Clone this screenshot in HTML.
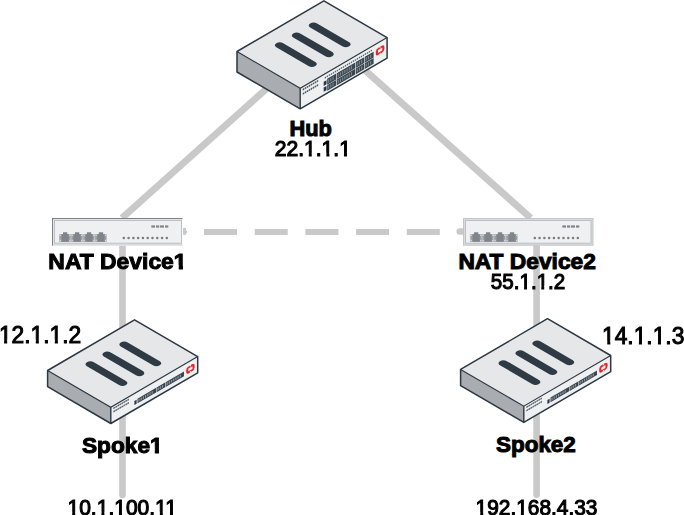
<!DOCTYPE html>
<html><head><meta charset="utf-8"><style>
html,body{margin:0;padding:0;background:#fff;width:684px;height:515px;overflow:hidden;}
svg{display:block;font-family:"Liberation Sans",sans-serif;}
</style></head><body>
<svg width="684" height="515" viewBox="0 0 684 515">
<rect width="684" height="515" fill="#fff"/>
<defs><mask id="m1" maskUnits="userSpaceOnUse" x="-20" y="-40" width="200" height="60"><rect x="-20" y="-40" width="200" height="60" fill="#fff"/><rect x="30.16" y="-3.16" width="4.52" height="5.21" fill="#000"/><rect x="37.78" y="-3.16" width="4.35" height="5.21" fill="#000"/><rect x="48.10" y="-3.16" width="4.52" height="5.21" fill="#000"/><rect x="55.72" y="-3.16" width="4.35" height="5.21" fill="#000"/><rect x="66.02" y="-3.16" width="4.52" height="5.21" fill="#000"/><rect x="73.64" y="-3.16" width="4.35" height="5.21" fill="#000"/></mask><mask id="m2" maskUnits="userSpaceOnUse" x="-20" y="-40" width="260" height="60"><rect x="-20" y="-40" width="260" height="60" fill="#fff"/><rect x="120.71" y="-3.75" width="4.50" height="5.75" fill="#000"/><rect x="129.33" y="-3.75" width="4.22" height="5.75" fill="#000"/></mask><mask id="m4" maskUnits="userSpaceOnUse" x="-20" y="-40" width="200" height="60"><rect x="-20" y="-40" width="200" height="60" fill="#fff"/><rect x="30.16" y="-3.16" width="4.52" height="5.21" fill="#000"/><rect x="37.78" y="-3.16" width="4.35" height="5.21" fill="#000"/><rect x="48.10" y="-3.16" width="4.52" height="5.21" fill="#000"/><rect x="55.72" y="-3.16" width="4.35" height="5.21" fill="#000"/></mask><mask id="m5" maskUnits="userSpaceOnUse" x="-20" y="-40" width="200" height="60"><rect x="-20" y="-40" width="200" height="60" fill="#fff"/><rect x="0.49" y="-3.26" width="4.87" height="5.26" fill="#000"/><rect x="8.54" y="-3.26" width="4.69" height="5.26" fill="#000"/><rect x="33.15" y="-3.26" width="4.87" height="5.26" fill="#000"/><rect x="41.19" y="-3.26" width="4.69" height="5.26" fill="#000"/><rect x="52.76" y="-3.26" width="4.87" height="5.26" fill="#000"/><rect x="60.80" y="-3.26" width="4.69" height="5.26" fill="#000"/></mask><mask id="m6" maskUnits="userSpaceOnUse" x="-20" y="-40" width="200" height="60"><rect x="-20" y="-40" width="200" height="60" fill="#fff"/><rect x="0.49" y="-3.26" width="4.87" height="5.26" fill="#000"/><rect x="8.54" y="-3.26" width="4.69" height="5.26" fill="#000"/><rect x="33.15" y="-3.26" width="4.87" height="5.26" fill="#000"/><rect x="41.19" y="-3.26" width="4.69" height="5.26" fill="#000"/><rect x="52.76" y="-3.26" width="4.87" height="5.26" fill="#000"/><rect x="60.80" y="-3.26" width="4.69" height="5.26" fill="#000"/></mask><mask id="m7" maskUnits="userSpaceOnUse" x="-20" y="-40" width="160" height="60"><rect x="-20" y="-40" width="160" height="60" fill="#fff"/><rect x="66.10" y="-3.75" width="4.50" height="5.75" fill="#000"/><rect x="74.72" y="-3.75" width="4.22" height="5.75" fill="#000"/></mask><mask id="m9" maskUnits="userSpaceOnUse" x="-20" y="-40" width="260" height="60"><rect x="-20" y="-40" width="260" height="60" fill="#fff"/><rect x="0.29" y="-3.16" width="4.52" height="5.21" fill="#000"/><rect x="7.91" y="-3.16" width="4.35" height="5.21" fill="#000"/><rect x="30.16" y="-3.16" width="4.52" height="5.21" fill="#000"/><rect x="37.78" y="-3.16" width="4.35" height="5.21" fill="#000"/><rect x="48.10" y="-3.16" width="4.52" height="5.21" fill="#000"/><rect x="55.72" y="-3.16" width="4.35" height="5.21" fill="#000"/><rect x="89.94" y="-3.16" width="4.52" height="5.21" fill="#000"/><rect x="97.56" y="-3.16" width="4.35" height="5.21" fill="#000"/><rect x="100.30" y="-3.16" width="4.52" height="5.21" fill="#000"/><rect x="107.92" y="-3.16" width="4.35" height="5.21" fill="#000"/></mask><mask id="m10" maskUnits="userSpaceOnUse" x="-20" y="-40" width="280" height="60"><rect x="-20" y="-40" width="280" height="60" fill="#fff"/><rect x="0.29" y="-3.16" width="4.52" height="5.21" fill="#000"/><rect x="7.91" y="-3.16" width="4.35" height="5.21" fill="#000"/><rect x="42.13" y="-3.16" width="4.52" height="5.21" fill="#000"/><rect x="49.75" y="-3.16" width="4.35" height="5.21" fill="#000"/></mask></defs>
<g stroke="#c9c9c9" fill="none">
<line x1="122" y1="218" x2="326" y2="35.5" stroke-width="7"/>
<line x1="530.7" y1="218" x2="326" y2="35.5" stroke-width="7"/>
<line x1="122.5" y1="240" x2="122.5" y2="495" stroke-width="6.6" stroke-linecap="round"/>
<line x1="536.6" y1="240" x2="536.6" y2="494.8" stroke-width="6.6" stroke-linecap="round"/>
<line x1="204" y1="231.95" x2="440" y2="231.95" stroke-width="6" stroke-dasharray="33 17.7"/>
</g>
<polygon points="237.00,51.50 323.90,0.80 387.10,37.60 300.20,88.30" fill="#e6e7e9"/>
<polygon points="237.00,51.50 300.20,88.30 300.20,108.80 237.00,72.00" fill="#a9acb0"/>
<polygon points="300.20,88.30 387.10,37.60 387.10,58.10 300.20,108.80" fill="#eff0f1"/>
<g transform="matrix(0.8642,0.5032,0.8637,-0.5039,237.00,51.50)" fill="#2e3a44">
<rect x="14.6" y="26.90" width="45.2" height="8.0" rx="4.00" ry="4.00"/>
<rect x="14.6" y="46.50" width="45.2" height="8.0" rx="4.00" ry="4.00"/>
<rect x="14.6" y="66.10" width="45.2" height="8.0" rx="4.00" ry="4.00"/>
</g>
<g transform="matrix(1,-0.5834,0,1,300.20,88.30)">
<rect x="2.5" y="2" width="1.5" height="1.8" fill="#4e5862"/>
<rect x="2.5" y="6.2" width="1.5" height="1.8" fill="#4e5862"/>
<rect x="4.5" y="2" width="1.5" height="1.8" fill="#4e5862"/>
<rect x="4.5" y="6.2" width="1.5" height="1.8" fill="#4e5862"/>
<rect x="6.5" y="2" width="1.5" height="1.8" fill="#4e5862"/>
<rect x="6.5" y="6.2" width="1.5" height="1.8" fill="#4e5862"/>
<rect x="8.5" y="2" width="1.5" height="1.8" fill="#4e5862"/>
<rect x="8.5" y="6.2" width="1.5" height="1.8" fill="#4e5862"/>
<rect x="10.5" y="2" width="1.5" height="1.8" fill="#4e5862"/>
<rect x="10.5" y="6.2" width="1.5" height="1.8" fill="#4e5862"/>
<rect x="12.5" y="2" width="1.5" height="1.8" fill="#4e5862"/>
<rect x="12.5" y="6.2" width="1.5" height="1.8" fill="#4e5862"/>
<rect x="14.5" y="2" width="1.5" height="1.8" fill="#4e5862"/>
<rect x="14.5" y="6.2" width="1.5" height="1.8" fill="#4e5862"/>
<rect x="16.5" y="2" width="1.5" height="1.8" fill="#4e5862"/>
<rect x="16.5" y="6.2" width="1.5" height="1.8" fill="#4e5862"/>
<rect x="24.5" y="3.2" width="1.3" height="1.5" fill="#5a646e"/>
<rect x="26.5" y="3.2" width="1.3" height="1.5" fill="#5a646e"/>
<rect x="28.5" y="3.2" width="1.3" height="1.5" fill="#5a646e"/>
<rect x="30.5" y="3.2" width="1.3" height="1.5" fill="#5a646e"/>
<rect x="32.5" y="3.2" width="1.3" height="1.5" fill="#5a646e"/>
<rect x="34.5" y="3.2" width="1.3" height="1.5" fill="#5a646e"/>
<rect x="36.5" y="3.2" width="1.3" height="1.5" fill="#5a646e"/>
<rect x="38.5" y="3.2" width="1.3" height="1.5" fill="#5a646e"/>
<rect x="40.5" y="3.2" width="1.3" height="1.5" fill="#5a646e"/>
<rect x="42.5" y="3.2" width="1.3" height="1.5" fill="#5a646e"/>
<rect x="44.5" y="3.2" width="1.3" height="1.5" fill="#5a646e"/>
<rect x="46.5" y="3.2" width="1.3" height="1.5" fill="#5a646e"/>
<rect x="48.5" y="3.2" width="1.3" height="1.5" fill="#5a646e"/>
<rect x="50.5" y="3.2" width="1.3" height="1.5" fill="#5a646e"/>
<rect x="52.5" y="3.2" width="1.3" height="1.5" fill="#5a646e"/>
<rect x="54.5" y="3.2" width="1.3" height="1.5" fill="#5a646e"/>
<rect x="56.5" y="3.2" width="1.3" height="1.5" fill="#5a646e"/>
<rect x="58.5" y="3.2" width="1.3" height="1.5" fill="#5a646e"/>
<rect x="60.5" y="3.2" width="1.3" height="1.5" fill="#5a646e"/>
<rect x="62.5" y="3.2" width="1.3" height="1.5" fill="#5a646e"/>
<rect x="64.5" y="3.2" width="1.3" height="1.5" fill="#5a646e"/>
<rect x="66.5" y="3.2" width="1.3" height="1.5" fill="#5a646e"/>
<rect x="68.5" y="3.2" width="1.3" height="1.5" fill="#5a646e"/>
<rect x="70.5" y="3.2" width="1.3" height="1.5" fill="#5a646e"/>
<rect x="23.5" y="7.2" width="2.8" height="4.2" fill="#2b3742"/>
<rect x="23.5" y="13" width="2.8" height="4.2" fill="#2b3742"/>
<rect x="27" y="6.2" width="9" height="5.8999999999999995" fill="#3a4650"/>
<rect x="27.90" y="7.50" width="1.1" height="3.30" fill="#7f8890"/>
<rect x="30.10" y="7.50" width="1.1" height="3.30" fill="#7f8890"/>
<rect x="32.30" y="7.50" width="1.1" height="3.30" fill="#7f8890"/>
<rect x="27" y="12.6" width="9" height="5.700000000000001" fill="#3a4650"/>
<rect x="27.90" y="13.90" width="1.1" height="3.10" fill="#7f8890"/>
<rect x="30.10" y="13.90" width="1.1" height="3.10" fill="#7f8890"/>
<rect x="32.30" y="13.90" width="1.1" height="3.10" fill="#7f8890"/>
<rect x="36.6" y="6.2" width="18.4" height="5.8999999999999995" fill="#3a4650"/>
<rect x="37.50" y="7.50" width="1.1" height="3.30" fill="#7f8890"/>
<rect x="39.70" y="7.50" width="1.1" height="3.30" fill="#7f8890"/>
<rect x="41.90" y="7.50" width="1.1" height="3.30" fill="#7f8890"/>
<rect x="44.10" y="7.50" width="1.1" height="3.30" fill="#7f8890"/>
<rect x="46.30" y="7.50" width="1.1" height="3.30" fill="#7f8890"/>
<rect x="48.50" y="7.50" width="1.1" height="3.30" fill="#7f8890"/>
<rect x="50.70" y="7.50" width="1.1" height="3.30" fill="#7f8890"/>
<rect x="36.6" y="12.6" width="18.4" height="5.700000000000001" fill="#3a4650"/>
<rect x="37.50" y="13.90" width="1.1" height="3.10" fill="#7f8890"/>
<rect x="39.70" y="13.90" width="1.1" height="3.10" fill="#7f8890"/>
<rect x="41.90" y="13.90" width="1.1" height="3.10" fill="#7f8890"/>
<rect x="44.10" y="13.90" width="1.1" height="3.10" fill="#7f8890"/>
<rect x="46.30" y="13.90" width="1.1" height="3.10" fill="#7f8890"/>
<rect x="48.50" y="13.90" width="1.1" height="3.10" fill="#7f8890"/>
<rect x="50.70" y="13.90" width="1.1" height="3.10" fill="#7f8890"/>
<rect x="55.6" y="6.2" width="8.399999999999999" height="5.8999999999999995" fill="#3a4650"/>
<rect x="56.50" y="7.50" width="1.1" height="3.30" fill="#7f8890"/>
<rect x="58.70" y="7.50" width="1.1" height="3.30" fill="#7f8890"/>
<rect x="60.90" y="7.50" width="1.1" height="3.30" fill="#7f8890"/>
<rect x="55.6" y="12.6" width="8.399999999999999" height="5.700000000000001" fill="#3a4650"/>
<rect x="56.50" y="13.90" width="1.1" height="3.10" fill="#7f8890"/>
<rect x="58.70" y="13.90" width="1.1" height="3.10" fill="#7f8890"/>
<rect x="60.90" y="13.90" width="1.1" height="3.10" fill="#7f8890"/>
<rect x="64.6" y="6.2" width="8.800000000000011" height="5.8999999999999995" fill="#3a4650"/>
<rect x="65.50" y="7.50" width="1.1" height="3.30" fill="#7f8890"/>
<rect x="67.70" y="7.50" width="1.1" height="3.30" fill="#7f8890"/>
<rect x="69.90" y="7.50" width="1.1" height="3.30" fill="#7f8890"/>
<rect x="64.6" y="12.6" width="8.800000000000011" height="5.700000000000001" fill="#3a4650"/>
<rect x="65.50" y="13.90" width="1.1" height="3.10" fill="#7f8890"/>
<rect x="67.70" y="13.90" width="1.1" height="3.10" fill="#7f8890"/>
<rect x="69.90" y="13.90" width="1.1" height="3.10" fill="#7f8890"/>
<rect x="76.64999999999999" y="6.05" width="6.5" height="5.1" rx="1.6" fill="none" stroke="#e5252a" stroke-width="2.1"/>
<rect x="79.39999999999999" y="4.8" width="1.0" height="1.4" fill="#eff0f1"/>
<rect x="79.39999999999999" y="11.0" width="1.0" height="1.4" fill="#eff0f1"/>
</g>
<polyline points="237.00,51.50 300.20,88.30 387.10,37.60" fill="none" stroke="#2b3742" stroke-width="1.1"/>
<line x1="300.20" y1="88.30" x2="300.20" y2="108.80" stroke="#2b3742" stroke-width="1.4"/>
<polygon points="237.00,51.50 323.90,0.80 387.10,37.60 387.10,58.10 300.20,108.80 237.00,72.00" fill="none" stroke="#2b3742" stroke-width="1.5" stroke-linejoin="round"/>
<rect x="183.0" y="228" width="3" height="6.8" fill="#c8c9cb"/>
<path d="M186.0,230.5 l1.2,0.6 v1.6 l-1.2,0.6 z" fill="#c8c9cb"/>
<rect x="52" y="218" width="130.5" height="27.7" fill="#ffffff"/>
<rect x="54" y="243.2" width="128.5" height="2.5" fill="#d9dbdd"/>
<rect x="54.5" y="220.5" width="127.0" height="22.7" fill="#eff0f1" stroke="#bcc0c4" stroke-width="1"/>
<rect x="52" y="218" width="130.5" height="1.2" fill="#7a8188"/>
<rect x="52" y="218" width="1.2" height="27.7" fill="#7a8188"/>
<rect x="59.30" y="234.2" width="11.4" height="7.6" fill="#9a9fa4"/>
<path d="M61.60,234.2 h1.4 v-2 h4.3 v2 h1.4 v7.6 h-7.1 z" fill="#7f858b"/>
<rect x="59.75" y="234.85" width="1.1" height="1.1" fill="#e2e4e6"/>
<rect x="69.15" y="234.85" width="1.1" height="1.1" fill="#e2e4e6"/>
<rect x="59.75" y="239.85" width="1.1" height="1.1" fill="#e2e4e6"/>
<rect x="69.15" y="239.85" width="1.1" height="1.1" fill="#e2e4e6"/>
<rect x="71.25" y="234.2" width="11.4" height="7.6" fill="#9a9fa4"/>
<path d="M73.55,234.2 h1.4 v-2 h4.3 v2 h1.4 v7.6 h-7.1 z" fill="#7f858b"/>
<rect x="71.70" y="234.85" width="1.1" height="1.1" fill="#e2e4e6"/>
<rect x="81.10" y="234.85" width="1.1" height="1.1" fill="#e2e4e6"/>
<rect x="71.70" y="239.85" width="1.1" height="1.1" fill="#e2e4e6"/>
<rect x="81.10" y="239.85" width="1.1" height="1.1" fill="#e2e4e6"/>
<rect x="83.20" y="234.2" width="11.4" height="7.6" fill="#9a9fa4"/>
<path d="M85.50,234.2 h1.4 v-2 h4.3 v2 h1.4 v7.6 h-7.1 z" fill="#7f858b"/>
<rect x="83.65" y="234.85" width="1.1" height="1.1" fill="#e2e4e6"/>
<rect x="93.05" y="234.85" width="1.1" height="1.1" fill="#e2e4e6"/>
<rect x="83.65" y="239.85" width="1.1" height="1.1" fill="#e2e4e6"/>
<rect x="93.05" y="239.85" width="1.1" height="1.1" fill="#e2e4e6"/>
<rect x="95.15" y="234.2" width="11.4" height="7.6" fill="#9a9fa4"/>
<path d="M97.45,234.2 h1.4 v-2 h4.3 v2 h1.4 v7.6 h-7.1 z" fill="#7f858b"/>
<rect x="95.60" y="234.85" width="1.1" height="1.1" fill="#e2e4e6"/>
<rect x="105.00" y="234.85" width="1.1" height="1.1" fill="#e2e4e6"/>
<rect x="95.60" y="239.85" width="1.1" height="1.1" fill="#e2e4e6"/>
<rect x="105.00" y="239.85" width="1.1" height="1.1" fill="#e2e4e6"/>
<rect x="151.30" y="225.4" width="3.70" height="2.2" fill="#80868b"/>
<rect x="156.00" y="225.4" width="3.20" height="2.2" fill="#80868b"/>
<rect x="160.00" y="225.4" width="4.00" height="2.2" fill="#80868b"/>
<rect x="165.00" y="225.4" width="3.30" height="2.2" fill="#80868b"/>
<circle cx="123.80" cy="237.9" r="1.25" fill="#767c82"/>
<circle cx="128.58" cy="237.9" r="1.25" fill="#767c82"/>
<circle cx="133.36" cy="237.9" r="1.25" fill="#767c82"/>
<circle cx="138.14" cy="237.9" r="1.25" fill="#767c82"/>
<circle cx="142.92" cy="237.9" r="1.25" fill="#767c82"/>
<circle cx="147.70" cy="237.9" r="1.25" fill="#767c82"/>
<circle cx="152.48" cy="237.9" r="1.25" fill="#767c82"/>
<circle cx="157.26" cy="237.9" r="1.25" fill="#767c82"/>
<circle cx="162.04" cy="237.9" r="1.25" fill="#767c82"/>
<circle cx="166.82" cy="237.9" r="1.25" fill="#767c82"/>
<path d="M463,228.2 h-3.2 a3.3,3.3 0 0 0 0,6.6 h3.2 z" fill="#c8c9cb"/>
<rect x="463.5" y="218.5" width="129.5" height="26.7" fill="#d9dbdd" stroke="#c3c7cb" stroke-width="1"/>
<rect x="465.5" y="220.5" width="125.5" height="22.7" fill="#eff0f1" stroke="#bcc0c4" stroke-width="1"/>
<rect x="470.30" y="234.2" width="11.4" height="7.6" fill="#9a9fa4"/>
<path d="M472.60,234.2 h1.4 v-2 h4.3 v2 h1.4 v7.6 h-7.1 z" fill="#7f858b"/>
<rect x="470.75" y="234.85" width="1.1" height="1.1" fill="#e2e4e6"/>
<rect x="480.15" y="234.85" width="1.1" height="1.1" fill="#e2e4e6"/>
<rect x="470.75" y="239.85" width="1.1" height="1.1" fill="#e2e4e6"/>
<rect x="480.15" y="239.85" width="1.1" height="1.1" fill="#e2e4e6"/>
<rect x="482.25" y="234.2" width="11.4" height="7.6" fill="#9a9fa4"/>
<path d="M484.55,234.2 h1.4 v-2 h4.3 v2 h1.4 v7.6 h-7.1 z" fill="#7f858b"/>
<rect x="482.70" y="234.85" width="1.1" height="1.1" fill="#e2e4e6"/>
<rect x="492.10" y="234.85" width="1.1" height="1.1" fill="#e2e4e6"/>
<rect x="482.70" y="239.85" width="1.1" height="1.1" fill="#e2e4e6"/>
<rect x="492.10" y="239.85" width="1.1" height="1.1" fill="#e2e4e6"/>
<rect x="494.20" y="234.2" width="11.4" height="7.6" fill="#9a9fa4"/>
<path d="M496.50,234.2 h1.4 v-2 h4.3 v2 h1.4 v7.6 h-7.1 z" fill="#7f858b"/>
<rect x="494.65" y="234.85" width="1.1" height="1.1" fill="#e2e4e6"/>
<rect x="504.05" y="234.85" width="1.1" height="1.1" fill="#e2e4e6"/>
<rect x="494.65" y="239.85" width="1.1" height="1.1" fill="#e2e4e6"/>
<rect x="504.05" y="239.85" width="1.1" height="1.1" fill="#e2e4e6"/>
<rect x="506.15" y="234.2" width="11.4" height="7.6" fill="#9a9fa4"/>
<path d="M508.45,234.2 h1.4 v-2 h4.3 v2 h1.4 v7.6 h-7.1 z" fill="#7f858b"/>
<rect x="506.60" y="234.85" width="1.1" height="1.1" fill="#e2e4e6"/>
<rect x="516.00" y="234.85" width="1.1" height="1.1" fill="#e2e4e6"/>
<rect x="506.60" y="239.85" width="1.1" height="1.1" fill="#e2e4e6"/>
<rect x="516.00" y="239.85" width="1.1" height="1.1" fill="#e2e4e6"/>
<rect x="562.30" y="225.4" width="3.70" height="2.2" fill="#80868b"/>
<rect x="567.00" y="225.4" width="3.20" height="2.2" fill="#80868b"/>
<rect x="571.00" y="225.4" width="4.00" height="2.2" fill="#80868b"/>
<rect x="576.00" y="225.4" width="3.30" height="2.2" fill="#80868b"/>
<circle cx="534.80" cy="237.9" r="1.25" fill="#767c82"/>
<circle cx="539.58" cy="237.9" r="1.25" fill="#767c82"/>
<circle cx="544.36" cy="237.9" r="1.25" fill="#767c82"/>
<circle cx="549.14" cy="237.9" r="1.25" fill="#767c82"/>
<circle cx="553.92" cy="237.9" r="1.25" fill="#767c82"/>
<circle cx="558.70" cy="237.9" r="1.25" fill="#767c82"/>
<circle cx="563.48" cy="237.9" r="1.25" fill="#767c82"/>
<circle cx="568.26" cy="237.9" r="1.25" fill="#767c82"/>
<circle cx="573.04" cy="237.9" r="1.25" fill="#767c82"/>
<circle cx="577.82" cy="237.9" r="1.25" fill="#767c82"/>
<polygon points="47.60,370.50 134.50,319.80 197.70,356.60 110.80,407.30" fill="#e6e7e9"/>
<polygon points="47.60,370.50 110.80,407.30 110.80,423.50 47.60,386.70" fill="#a9acb0"/>
<polygon points="110.80,407.30 197.70,356.60 197.70,372.80 110.80,423.50" fill="#eff0f1"/>
<g transform="matrix(0.8642,0.5032,0.8637,-0.5039,47.60,370.50)" fill="#2e3a44">
<rect x="14.6" y="26.90" width="45.2" height="8.0" rx="4.00" ry="4.00"/>
<rect x="14.6" y="46.50" width="45.2" height="8.0" rx="4.00" ry="4.00"/>
<rect x="14.6" y="66.10" width="45.2" height="8.0" rx="4.00" ry="4.00"/>
</g>
<g transform="matrix(1,-0.5834,0,1,110.80,407.30)">
<rect x="2.6" y="1.8" width="1.5" height="1.6" fill="#4e5862"/>
<rect x="2.6" y="5.2" width="1.5" height="1.6" fill="#4e5862"/>
<rect x="4.6" y="1.8" width="1.5" height="1.6" fill="#4e5862"/>
<rect x="4.6" y="5.2" width="1.5" height="1.6" fill="#4e5862"/>
<rect x="6.6" y="1.8" width="1.5" height="1.6" fill="#4e5862"/>
<rect x="6.6" y="5.2" width="1.5" height="1.6" fill="#4e5862"/>
<rect x="8.6" y="1.8" width="1.5" height="1.6" fill="#4e5862"/>
<rect x="8.6" y="5.2" width="1.5" height="1.6" fill="#4e5862"/>
<rect x="10.6" y="1.8" width="1.5" height="1.6" fill="#4e5862"/>
<rect x="10.6" y="5.2" width="1.5" height="1.6" fill="#4e5862"/>
<rect x="12.6" y="1.8" width="1.5" height="1.6" fill="#4e5862"/>
<rect x="12.6" y="5.2" width="1.5" height="1.6" fill="#4e5862"/>
<rect x="14.6" y="1.8" width="1.5" height="1.6" fill="#4e5862"/>
<rect x="14.6" y="5.2" width="1.5" height="1.6" fill="#4e5862"/>
<rect x="16.6" y="1.8" width="1.5" height="1.6" fill="#4e5862"/>
<rect x="16.6" y="5.2" width="1.5" height="1.6" fill="#4e5862"/>
<rect x="23.6" y="7.5" width="2.2" height="4" fill="#2b3742"/>
<rect x="26.7" y="7" width="18.599999999999998" height="4.6" fill="#3a4650"/>
<rect x="27.60" y="8" width="1.2" height="2.6" fill="#8e979f"/>
<rect x="29.80" y="8" width="1.2" height="2.6" fill="#8e979f"/>
<rect x="32.00" y="8" width="1.2" height="2.6" fill="#8e979f"/>
<rect x="34.20" y="8" width="1.2" height="2.6" fill="#8e979f"/>
<rect x="36.40" y="8" width="1.2" height="2.6" fill="#8e979f"/>
<rect x="38.60" y="8" width="1.2" height="2.6" fill="#8e979f"/>
<rect x="40.80" y="8" width="1.2" height="2.6" fill="#8e979f"/>
<rect x="45.8" y="7" width="8.5" height="4.6" fill="#3a4650"/>
<rect x="46.70" y="8" width="1.2" height="2.6" fill="#8e979f"/>
<rect x="48.90" y="8" width="1.2" height="2.6" fill="#8e979f"/>
<rect x="51.10" y="8" width="1.2" height="2.6" fill="#8e979f"/>
<rect x="54.8" y="7" width="18.400000000000006" height="4.6" fill="#3a4650"/>
<rect x="55.70" y="8" width="1.2" height="2.6" fill="#8e979f"/>
<rect x="57.90" y="8" width="1.2" height="2.6" fill="#8e979f"/>
<rect x="60.10" y="8" width="1.2" height="2.6" fill="#8e979f"/>
<rect x="62.30" y="8" width="1.2" height="2.6" fill="#8e979f"/>
<rect x="64.50" y="8" width="1.2" height="2.6" fill="#8e979f"/>
<rect x="66.70" y="8" width="1.2" height="2.6" fill="#8e979f"/>
<rect x="68.90" y="8" width="1.2" height="2.6" fill="#8e979f"/>
<rect x="76.45" y="5.45" width="6.300000000000001" height="4.9" rx="1.6" fill="none" stroke="#e5252a" stroke-width="2.1"/>
<rect x="79.10000000000001" y="4.2" width="1.0" height="1.4" fill="#eff0f1"/>
<rect x="79.10000000000001" y="10.200000000000001" width="1.0" height="1.4" fill="#eff0f1"/>
</g>
<polyline points="47.60,370.50 110.80,407.30 197.70,356.60" fill="none" stroke="#2b3742" stroke-width="1.1"/>
<line x1="110.80" y1="407.30" x2="110.80" y2="423.50" stroke="#2b3742" stroke-width="1.4"/>
<polygon points="47.60,370.50 134.50,319.80 197.70,356.60 197.70,372.80 110.80,423.50 47.60,386.70" fill="none" stroke="#2b3742" stroke-width="1.5" stroke-linejoin="round"/>
<polygon points="460.60,369.40 547.50,318.70 610.70,355.50 523.80,406.20" fill="#e6e7e9"/>
<polygon points="460.60,369.40 523.80,406.20 523.80,422.40 460.60,385.60" fill="#a9acb0"/>
<polygon points="523.80,406.20 610.70,355.50 610.70,371.70 523.80,422.40" fill="#eff0f1"/>
<g transform="matrix(0.8642,0.5032,0.8637,-0.5039,460.60,369.40)" fill="#2e3a44">
<rect x="14.6" y="26.90" width="45.2" height="8.0" rx="4.00" ry="4.00"/>
<rect x="14.6" y="46.50" width="45.2" height="8.0" rx="4.00" ry="4.00"/>
<rect x="14.6" y="66.10" width="45.2" height="8.0" rx="4.00" ry="4.00"/>
</g>
<g transform="matrix(1,-0.5834,0,1,523.80,406.20)">
<rect x="2.6" y="1.8" width="1.5" height="1.6" fill="#4e5862"/>
<rect x="2.6" y="5.2" width="1.5" height="1.6" fill="#4e5862"/>
<rect x="4.6" y="1.8" width="1.5" height="1.6" fill="#4e5862"/>
<rect x="4.6" y="5.2" width="1.5" height="1.6" fill="#4e5862"/>
<rect x="6.6" y="1.8" width="1.5" height="1.6" fill="#4e5862"/>
<rect x="6.6" y="5.2" width="1.5" height="1.6" fill="#4e5862"/>
<rect x="8.6" y="1.8" width="1.5" height="1.6" fill="#4e5862"/>
<rect x="8.6" y="5.2" width="1.5" height="1.6" fill="#4e5862"/>
<rect x="10.6" y="1.8" width="1.5" height="1.6" fill="#4e5862"/>
<rect x="10.6" y="5.2" width="1.5" height="1.6" fill="#4e5862"/>
<rect x="12.6" y="1.8" width="1.5" height="1.6" fill="#4e5862"/>
<rect x="12.6" y="5.2" width="1.5" height="1.6" fill="#4e5862"/>
<rect x="14.6" y="1.8" width="1.5" height="1.6" fill="#4e5862"/>
<rect x="14.6" y="5.2" width="1.5" height="1.6" fill="#4e5862"/>
<rect x="16.6" y="1.8" width="1.5" height="1.6" fill="#4e5862"/>
<rect x="16.6" y="5.2" width="1.5" height="1.6" fill="#4e5862"/>
<rect x="23.6" y="7.5" width="2.2" height="4" fill="#2b3742"/>
<rect x="26.7" y="7" width="18.599999999999998" height="4.6" fill="#3a4650"/>
<rect x="27.60" y="8" width="1.2" height="2.6" fill="#8e979f"/>
<rect x="29.80" y="8" width="1.2" height="2.6" fill="#8e979f"/>
<rect x="32.00" y="8" width="1.2" height="2.6" fill="#8e979f"/>
<rect x="34.20" y="8" width="1.2" height="2.6" fill="#8e979f"/>
<rect x="36.40" y="8" width="1.2" height="2.6" fill="#8e979f"/>
<rect x="38.60" y="8" width="1.2" height="2.6" fill="#8e979f"/>
<rect x="40.80" y="8" width="1.2" height="2.6" fill="#8e979f"/>
<rect x="45.8" y="7" width="8.5" height="4.6" fill="#3a4650"/>
<rect x="46.70" y="8" width="1.2" height="2.6" fill="#8e979f"/>
<rect x="48.90" y="8" width="1.2" height="2.6" fill="#8e979f"/>
<rect x="51.10" y="8" width="1.2" height="2.6" fill="#8e979f"/>
<rect x="54.8" y="7" width="18.400000000000006" height="4.6" fill="#3a4650"/>
<rect x="55.70" y="8" width="1.2" height="2.6" fill="#8e979f"/>
<rect x="57.90" y="8" width="1.2" height="2.6" fill="#8e979f"/>
<rect x="60.10" y="8" width="1.2" height="2.6" fill="#8e979f"/>
<rect x="62.30" y="8" width="1.2" height="2.6" fill="#8e979f"/>
<rect x="64.50" y="8" width="1.2" height="2.6" fill="#8e979f"/>
<rect x="66.70" y="8" width="1.2" height="2.6" fill="#8e979f"/>
<rect x="68.90" y="8" width="1.2" height="2.6" fill="#8e979f"/>
<rect x="76.45" y="5.45" width="6.300000000000001" height="4.9" rx="1.6" fill="none" stroke="#e5252a" stroke-width="2.1"/>
<rect x="79.10000000000001" y="4.2" width="1.0" height="1.4" fill="#eff0f1"/>
<rect x="79.10000000000001" y="10.200000000000001" width="1.0" height="1.4" fill="#eff0f1"/>
</g>
<polyline points="460.60,369.40 523.80,406.20 610.70,355.50" fill="none" stroke="#2b3742" stroke-width="1.1"/>
<line x1="523.80" y1="406.20" x2="523.80" y2="422.40" stroke="#2b3742" stroke-width="1.4"/>
<polygon points="460.60,369.40 547.50,318.70 610.70,355.50 610.70,371.70 523.80,422.40 460.60,385.60" fill="none" stroke="#2b3742" stroke-width="1.5" stroke-linejoin="round"/>
<g transform="translate(289.49,136) scale(0.9921,1)"><text font-weight="bold" font-size="22.0" stroke="#000" stroke-width="1.0" fill="#000">Hub</text></g>
<g transform="translate(274.66,156) scale(0.9824,1)"><text font-weight="normal" font-size="21.5" stroke="#000" stroke-width="1.1" fill="#000" mask="url(#m1)">22.1.1.1</text></g>
<g transform="translate(48.36,269) scale(1.0410,1)"><text font-weight="bold" font-size="22.0" stroke="#000" stroke-width="1.0" fill="#000" mask="url(#m2)">NAT Device1</text></g>
<g transform="translate(458.44,269) scale(1.0349,1)"><text font-weight="bold" font-size="22.0" stroke="#000" stroke-width="1.0" fill="#000">NAT Device2</text></g>
<g transform="translate(490.82,289) scale(0.9588,1)"><text font-weight="normal" font-size="21.5" stroke="#000" stroke-width="1.1" fill="#000" mask="url(#m4)">55.1.1.2</text></g>
<g transform="translate(-1.11,343) scale(0.9706,1)"><text font-weight="normal" font-size="23.5" stroke="#000" stroke-width="1.0" fill="#000" mask="url(#m5)">12.1.1.2</text></g>
<g transform="translate(602.04,344) scale(0.9696,1)"><text font-weight="normal" font-size="23.5" stroke="#000" stroke-width="1.0" fill="#000" mask="url(#m6)">14.1.1.3</text></g>
<g transform="translate(81.91,453) scale(1.0317,1)"><text font-weight="bold" font-size="22.0" stroke="#000" stroke-width="1.0" fill="#000" mask="url(#m7)">Spoke1</text></g>
<g transform="translate(495.97,452) scale(1.0215,1)"><text font-weight="bold" font-size="22.0" stroke="#000" stroke-width="1.0" fill="#000">Spoke2</text></g>
<g transform="translate(67.49,515) scale(0.9776,1)"><text font-weight="normal" font-size="21.5" stroke="#000" stroke-width="1.1" fill="#000" mask="url(#m9)">10.1.100.11</text></g>
<g transform="translate(475.58,515) scale(0.9711,1)"><text font-weight="normal" font-size="21.5" stroke="#000" stroke-width="1.1" fill="#000" mask="url(#m10)">192.168.4.33</text></g>
</svg>
</body></html>
